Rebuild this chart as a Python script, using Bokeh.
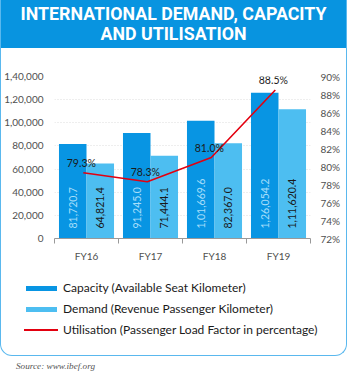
import math
from bokeh.plotting import figure
from bokeh.models import (Range1d, LinearAxis, FixedTicker, ColumnDataSource, Div)
from bokeh.layouts import column
from bokeh.core.properties import value
from bokeh.embed import file_html
from bokeh.resources import INLINE

# ---- data ----
years = ["FY16", "FY17", "FY18", "FY19"]
capacity = [81720.7, 91245.0, 101669.6, 126054.2]
demand = [64821.4, 71444.1, 82367.0, 111620.4]
utilisation = [79.3, 78.3, 81.0, 88.5]
left_ticks = [0, 20000, 40000, 60000, 80000, 100000, 120000, 140000]
left_tick_labels = ["0", "20,000", "40,000", "60,000", "80,000", "1,00,000", "1,20,000", "1,40,000"]
right_ticks = [72, 74, 76, 78, 80, 82, 84, 86, 88, 90]
right_tick_labels = ["72%", "74%", "76%", "78%", "80%", "82%", "84%", "86%", "88%", "90%"]
title_lines = ["INTERNATIONAL DEMAND, CAPACITY", "AND UTILISATION"]
legend_labels = ["Capacity (Available Seat Kilometer)",
                 "Demand (Revenue Passenger Kilometer)",
                 "Utilisation (Passenger Load Factor in percentage)"]
source_text = "Source: www.ibef.org"


def inr(v):
    s = f"{v:.1f}"
    ip, dp = s.split(".")
    last3, rest = ip[-3:], ip[:-3]
    groups = []
    while len(rest) > 2:
        groups.insert(0, rest[-2:])
        rest = rest[:-2]
    if rest:
        groups.insert(0, rest)
    return ",".join(groups + [last3]) + "." + dp


CAP_COLOR = "#0895e3"
DEM_COLOR = "#4dbef1"
HEAD_COLOR = "#0894e0"
BORDER_COLOR = "#5ab8ee"
LINE_COLOR = "#e3000f"
FONT = "Lato"
W = 345

# ---------------- header ----------------
hdr = Div(text="<br>".join(title_lines), width=W, height=48, margin=0,
          styles={"background-color": HEAD_COLOR, "color": "white", "font-family": "Roboto",
                  "font-weight": "bold", "font-size": "17.8px", "line-height": "19.5px",
                  "text-align": "center", "padding-top": "4px", "box-sizing": "border-box"})

# ---------------- main chart ----------------
centers = [i + 0.5 for i in range(len(years))]
bw = 0.43
src = ColumnDataSource(dict(
    xc=[c - bw / 2 for c in centers],
    xd=[c + bw / 2 for c in centers],
    cap=capacity, dem=demand,
    cap_lab=[inr(v) for v in capacity],
    dem_lab=[inr(v) for v in demand],
    zero=[0] * len(years),
))
lsrc = ColumnDataSource(dict(
    x=[c - 0.05 for c in centers], u=utilisation,
    lab=[f"{u:.1f}%" for u in utilisation],
))

p = figure(width=W, height=222, output_backend="svg", toolbar_location=None,
           x_range=Range1d(0, 4), y_range=Range1d(0, 140000),
           min_border_left=52, min_border_right=36, min_border_top=28, min_border_bottom=32,
           y_axis_location=None, x_axis_location=None, margin=0)
p.outline_line_color = None
p.border_fill_alpha = 0
p.extra_y_ranges = {"pct": Range1d(72, 90)}

font_kw = dict(major_label_text_font=FONT, major_label_text_font_size="10px",
               major_label_text_color="#505050")

yax = LinearAxis(ticker=FixedTicker(ticks=left_ticks),
                 major_label_overrides={t: l for t, l in zip(left_ticks, left_tick_labels)},
                 axis_line_color=None, major_tick_line_color=None, minor_tick_line_color=None,
                 major_label_standoff=5, **font_kw)
p.add_layout(yax, "left")

rax = LinearAxis(y_range_name="pct", ticker=FixedTicker(ticks=right_ticks),
                 major_label_overrides={t: l for t, l in zip(right_ticks, right_tick_labels)},
                 axis_line_color=None, major_tick_line_color=None, minor_tick_line_color=None,
                 major_label_standoff=4, **font_kw)
p.add_layout(rax, "right")

xax = LinearAxis(ticker=FixedTicker(ticks=centers, minor_ticks=[0, 1, 2, 3, 4]),
                 major_label_overrides={c: y for c, y in zip(centers, years)},
                 axis_line_color="#999", major_tick_line_color=None,
                 minor_tick_line_color="#999", minor_tick_out=5, minor_tick_in=0,
                 major_label_standoff=5, **font_kw)
p.add_layout(xax, "below")

p.ygrid.ticker = FixedTicker(ticks=left_ticks)
p.ygrid.grid_line_color = "#dddddd"
p.ygrid.grid_line_dash = "1 2"
p.xgrid.grid_line_color = None

p.vbar(x="xc", top="cap", width=bw, source=src, fill_color=CAP_COLOR, line_color=None)
p.vbar(x="xd", top="dem", width=bw, source=src, fill_color=DEM_COLOR, line_color=None)

p.text(x="xc", y="zero", text="cap_lab", source=src, angle=math.pi / 2, y_offset=-10,
       text_align="left", text_baseline="middle", text_font=value(FONT),
       text_font_size="10.5px", text_color="#a6defa")
p.text(x="xd", y="zero", text="dem_lab", source=src, angle=math.pi / 2, y_offset=-10,
       text_align="left", text_baseline="middle", text_font=value(FONT),
       text_font_size="10.5px", text_color="#1a1a1a")

p.line(x="x", y="u", source=lsrc, y_range_name="pct", line_color=LINE_COLOR, line_width=1.6)
p.text(x="x", y="u", text="lab", source=lsrc, y_range_name="pct", x_offset=-2, y_offset=-4,
       text_align="center", text_baseline="bottom", text_font=value(FONT),
       text_font_size="10.5px", text_color="#1a1a1a")

# ---------------- legend (HTML) ----------------
swatches = [
    (CAP_COLOR, 31, 5, 25, 6),
    (DEM_COLOR, 31, 5, 25, 6),
    (LINE_COLOR, 34, 1.6, 23, 5),
]
rows = []
for (col, sw, sh, ml, mr), lab in zip(swatches, legend_labels):
    rows.append(
        f'<div style="display:flex;align-items:center;height:14px;margin-bottom:7px;">'
        f'<span style="display:inline-block;width:{sw}px;height:{sh}px;background:{col};'
        f'margin-left:{ml}px;margin-right:{mr}px;"></span>'
        f'<span style="white-space:nowrap;">{lab}</span></div>')
lg = Div(text="".join(rows), width=W, height=85, margin=0,
         styles={"font-family": FONT, "font-size": "12px", "color": "#1a1a1a",
                 "padding-top": "11px", "box-sizing": "border-box"})

card = column(hdr, p, lg, spacing=0, margin=0,
              styles={"border": f"1.5px solid {BORDER_COLOR}", "border-top": "0",
                      "border-radius": "0 0 12px 12px"})
src_div = Div(text=source_text, width=W, height=19, margin=0,
              styles={"font-family": "Liberation Serif", "font-style": "italic",
                      "font-size": "9.2px", "line-height": "10px", "color": "#555555",
                      "padding-left": "16px", "padding-top": "5px", "box-sizing": "border-box"})
layout = column(card, src_div, spacing=0, margin=0)

open("out.html", "w").write(file_html(layout, INLINE))
